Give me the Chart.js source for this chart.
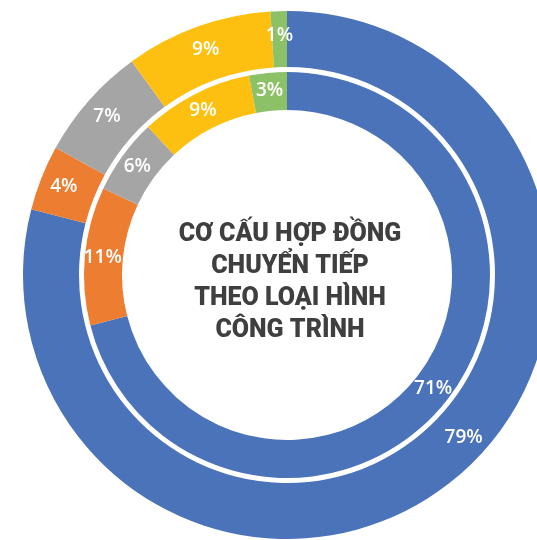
<!DOCTYPE html>
<html>
<head>
<meta charset="utf-8">
<script src="https://cdn.jsdelivr.net/npm/chart.js@4/dist/chart.umd.min.js"></script>
<style>
  html, body { margin: 0; padding: 0; overflow: hidden; background: #fff; }
  #wrap { position: absolute; left: 0; top: 0; width: 574px; height: 550px; }
</style>
</head>
<body>
<div id="wrap"><canvas id="chart"></canvas></div>
<script>
// Contract structure by project type (percent)
const categories = ['Nhóm 1', 'Nhóm 2', 'Nhóm 3', 'Nhóm 4', 'Nhóm 5'];
const outerValues = [79, 4, 7, 9, 1];
const innerValues = [71, 11, 6, 9, 3];
const sliceColors = ['#4A73B9', '#ED7D31', '#A5A5A5', '#FDC010', '#8DC167'];
const titleLines = ['CƠ CẤU HỢP ĐỒNG', 'CHUYỂN TIẾP', 'THEO LOẠI HÌNH', 'CÔNG TRÌNH'];

// Percentage labels placed in the middle of each arc
const sliceLabels = {
  id: 'sliceLabels',
  afterDatasetsDraw(chart, args, opts) {
    const ctx = chart.ctx;
    ctx.save();
    ctx.fillStyle = opts.color;
    ctx.font = opts.font;
    ctx.textAlign = 'center';
    ctx.textBaseline = 'middle';
    chart.data.datasets.forEach((ds, di) => {
      if (ds.spacer) return;
      const meta = chart.getDatasetMeta(di);
      meta.data.forEach((arc, i) => {
        const p = arc.getProps(['x', 'y', 'startAngle', 'endAngle', 'innerRadius', 'outerRadius'], true);
        const shift = (((opts.angleShift || {})[di] || [])[i] || 0) * Math.PI / 180;
        const a = (p.startAngle + p.endAngle) / 2 + shift;
        const r = (p.innerRadius + p.outerRadius) / 2 + (opts.radialShift[di] || 0);
        ctx.fillText(ds.data[i] + '%', p.x + Math.cos(a) * r, p.y + Math.sin(a) * r);
      });
    });
    ctx.restore();
  }
};

// Title written inside the hole
const centerTitle = {
  id: 'centerTitle',
  afterDraw(chart, args, opts) {
    const ctx = chart.ctx;
    const arc = chart.getDatasetMeta(0).data[0];
    const cx = arc.x + opts.dx;
    const cy = arc.y;
    ctx.save();
    ctx.fillStyle = opts.color;
    ctx.font = opts.font;
    ctx.textAlign = 'center';
    ctx.textBaseline = 'alphabetic';
    opts.lines.forEach((line, i) => {
      ctx.fillText(line, cx, cy + opts.firstBaseline + i * opts.lineHeight);
    });
    ctx.restore();
  }
};

function draw() {
  new Chart(document.getElementById('chart'), {
    type: 'doughnut',
    data: {
      labels: categories,
      datasets: [
        { data: outerValues, backgroundColor: sliceColors, weight: 56 },
        { data: [1], backgroundColor: 'rgba(0,0,0,0)', weight: 5, spacer: true },
        { data: innerValues, backgroundColor: sliceColors, weight: 38 }
      ]
    },
    options: {
      responsive: true,
      maintainAspectRatio: false,
      animation: false,
      events: [],
      radius: 264,
      cutout: '62.5%',
      layout: { padding: 0 },
      elements: { arc: { borderWidth: 0 } },
      plugins: {
        legend: { display: false },
        tooltip: { enabled: false },
        sliceLabels: {
          color: '#ffffff',
          font: '600 19px "Open Sans"',
          angleShift: { 0: [-9.6] },
          radialShift: { 0: 4, 2: 1 }
        },
        centerTitle: {
          lines: titleLines,
          color: '#3F3F3F',
          font: '900 25px Roboto',
          dx: 3,
          firstBaseline: -34,
          lineHeight: 32
        }
      }
    },
    plugins: [sliceLabels, centerTitle]
  });
}

Promise.all([
  document.fonts.load('900 25px Roboto'),
  document.fonts.load('600 19px "Open Sans"')
]).then(draw, draw);
</script>
</body>
</html>
